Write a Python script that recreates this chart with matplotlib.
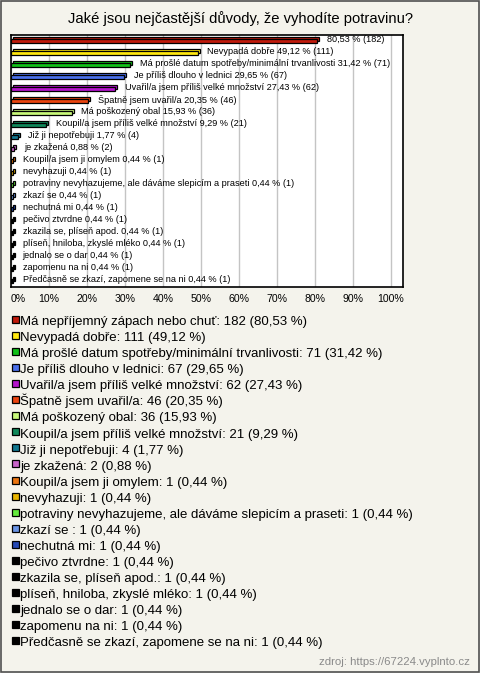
import matplotlib
matplotlib.use('Agg')
import matplotlib.pyplot as plt
from matplotlib.patches import Rectangle

plt.rcParams['font.family'] = ['Liberation Sans', 'DejaVu Sans']

# data
categories = [
    'Má nepříjemný zápach nebo chuť',
    'Nevypadá dobře',
    'Má prošlé datum spotřeby/minimální trvanlivosti',
    'Je příliš dlouho v lednici',
    'Uvařil/a jsem příliš velké množství',
    'Špatně jsem uvařil/a',
    'Má poškozený obal',
    'Koupil/a jsem příliš velké množství',
    'Již ji nepotřebuji',
    'je zkažená',
    'Koupil/a jsem ji omylem',
    'nevyhazuji',
    'potraviny nevyhazujeme, ale dáváme slepicím a praseti',
    'zkazí se ',
    'nechutná mi',
    'pečivo ztvrdne',
    'zkazila se, plíseň apod.',
    'plíseň, hniloba, zkyslé mléko',
    'jednalo se o dar',
    'zapomenu na ni',
    'Předčasně se zkazí, zapomene se na ni',
]
counts = [182, 111, 71, 67, 62, 46, 36, 21, 4, 2, 1, 1, 1, 1, 1, 1, 1, 1, 1, 1, 1]
percents = [80.53, 49.12, 31.42, 29.65, 27.43, 20.35, 15.93, 9.29, 1.77, 0.88,
            0.44, 0.44, 0.44, 0.44, 0.44, 0.44, 0.44, 0.44, 0.44, 0.44, 0.44]
colors = ['#C01A0C', '#FFE810', '#10C018', '#4A70EA', '#B414CC', '#EA4410',
          '#C8F87A', '#10885A', '#127890', '#C864C8', '#EA7410', '#E8B400',
          '#64EA3C', '#6A94E4', '#2448B4', '#000000', '#000000', '#000000',
          '#000000', '#000000', '#000000']
bar_labels = ['']  # first bar shows only the value
bar_labels += [c.rstrip() + ' ' for c in categories[1:]]
ticks = [0, 10, 20, 30, 40, 50, 60, 70, 80, 90, 100]


def cz(p):
    return f'{p:.2f}'.replace('.', ',')


W, H = 480, 673
fig = plt.figure(figsize=(W / 100, H / 100), dpi=100, facecolor='#F4F3EC')

# frame round the whole picture
frame = fig.add_axes([0, 0, 1, 1])
frame.set_xlim(0, W)
frame.set_ylim(H, 0)
frame.axis('off')
frame.add_patch(Rectangle((0.5, 0.5), W - 1.5, H - 1.5, fill=False, edgecolor='#505050', lw=1.2))

fig.text(240 / W, 1 - 19 / H, 'Jaké jsou nejčastější důvody, že vyhodíte potravinu?',
         ha='center', va='center', fontsize=10.6)

# bar chart
ax = fig.add_axes([11 / W, 1 - 287 / H, 392 / W, 252 / H])
ax.set_facecolor('white')
ax.set_xlim(0, 103.2)
ax.set_ylim(len(categories) - 0.5, -0.5)
ax.set_xticks(ticks)
ax.set_yticks([])
ax.grid(axis='x', color='#C4C4C4', lw=1)
ax.set_axisbelow(True)
for s in ax.spines.values():
    s.set_color('black')
    s.set_linewidth(1.2)
ax.tick_params(axis='x', length=0, labelsize=7.6, pad=5)
labs = ax.set_xticklabels([f'{t}%' for t in ticks])
labs[0].set_horizontalalignment('left')

ypos = list(range(len(categories)))
dx, dy = 0.55, 0.17   # depth of the fake 3D
ax.barh([y - dy for y in ypos], percents, left=dx, height=0.38, color=colors,
        edgecolor='black', lw=0.9, zorder=2)
ax.barh(ypos, percents, height=0.38, color=colors, edgecolor='black', lw=0.9, zorder=3)
for y, p, n, lab in zip(ypos, percents, counts, bar_labels):
    ax.text(p + 2.6, y - 0.1, lab + cz(p) + f' % ({n})',
            va='center', ha='left', fontsize=6.6, zorder=4)

# legend
for i, (c, n, p, col) in enumerate(zip(categories, counts, percents, colors)):
    yc = 321 + i * 16.05
    frame.add_patch(Rectangle((12, yc - 5), 7, 7, facecolor=col, edgecolor='black', lw=0.9))
    frame.text(20.5, yc + 4.2, f'{c}: {n} (' + cz(p) + ' %)',
               va='baseline', ha='left', fontsize=9.5)

fig.text(470 / W, 1 - 662 / H, 'zdroj: https://67224.vyplnto.cz', ha='right', va='center',
         fontsize=8.2, color='#8A8A8A')

fig.savefig('out.png', dpi=100, facecolor=fig.get_facecolor())
